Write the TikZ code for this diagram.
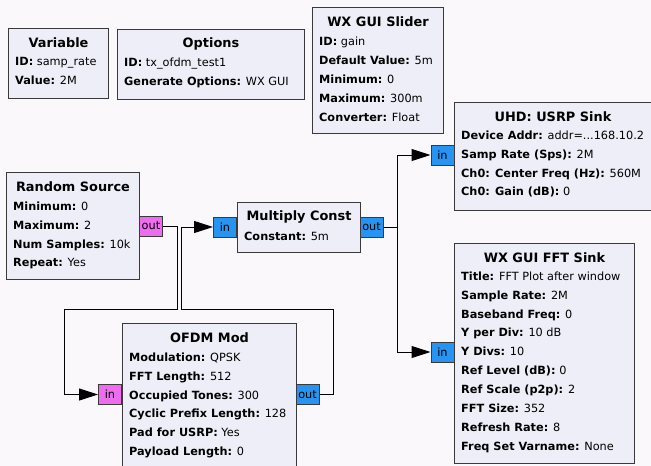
\documentclass[tikz,border=0pt]{standalone}
\usepackage{fontspec}
\setmainfont{DejaVu Sans}
\usetikzlibrary{arrows.meta}
\definecolor{canvas}{HTML}{FBF8FC}
\definecolor{blockfill}{HTML}{EEEEF8}
\definecolor{blockline}{HTML}{3A3A3A}
\definecolor{byteport}{HTML}{EE6CEE}
\definecolor{cplxport}{HTML}{2894F2}
\tikzset{
  x=1pt, y=-1pt,
  block/.style={draw=blockline, line width=1pt, fill=blockfill, anchor=north west, inner sep=0pt},
  btitle/.style={anchor=center, inner sep=0pt, font=\fontsize{12.9}{19}\selectfont\bfseries},
  bparams/.style={anchor=north west, inner sep=0pt, align=left, font=\fontsize{11.3}{18.9}\selectfont},
  port/.style={draw=blockline, line width=1pt, minimum width=23pt, minimum height=20pt, inner sep=0pt, font=\fontsize{11.3}{13}\selectfont},
  bport/.style={port, fill=byteport},
  cport/.style={port, fill=cplxport},
  wire/.style={draw=black, line width=1pt},
  flow/.style={wire, -{Triangle[length=19pt, width=12pt]}},
}
\newcommand{\prm}[2]{\textbf{#1:} #2}
\begin{document}
\begin{tikzpicture}
\useasboundingbox (0,0) rectangle (651,466);
\fill[canvas] (0,0) rectangle (651,466);

% Variable
\node[block, minimum width=100pt, minimum height=70pt] (var) at (8,28) {};
\node[btitle] at ([yshift=-15pt]var.north) {Variable};
\node[bparams] at ([xshift=7pt,yshift=-29pt]var.north west) {\prm{ID}{samp\_rate}\\\prm{Value}{2M}};

% Options
\node[block, minimum width=187pt, minimum height=70pt] (opt) at (117,29) {};
\node[btitle] at ([yshift=-15pt]opt.north) {Options};
\node[bparams] at ([xshift=7pt,yshift=-28.5pt]opt.north west) {\prm{ID}{tx\_ofdm\_test1}\\\prm{Generate Options}{WX GUI}};

% WX GUI Slider
\node[block, minimum width=131pt, minimum height=126pt] (sld) at (312,7) {};
\node[btitle] at ([yshift=-15pt]sld.north) {WX GUI Slider};
\node[bparams] at ([xshift=7pt,yshift=-30pt]sld.north west) {\prm{ID}{gain}\\\prm{Default Value}{5m}\\\prm{Minimum}{0}\\\prm{Maximum}{300m}\\\prm{Converter}{Float}};

% UHD: USRP Sink
\node[block, minimum width=200pt, minimum height=108pt] (uhd) at (454,102) {};
\node[btitle] at (553,117) {UHD: USRP Sink};
\node[bparams] at ([xshift=7pt,yshift=-28.5pt]uhd.north west) {\prm{Device Addr}{addr=...168.10.2}\\\prm{Samp Rate (Sps)}{2M}\\\prm{Ch0: Center Freq (Hz)}{560M}\\\prm{Ch0: Gain (dB)}{0}};
\node[cport] (uhdin) at (442.5,155) {in};

% Random Source
\node[block, minimum width=133pt, minimum height=107pt] (rs) at (6,172) {};
\node[btitle] at ([yshift=-15pt]rs.north) {Random Source};
\node[bparams] at ([xshift=7pt,yshift=-29.5pt]rs.north west) {\prm{Minimum}{0}\\\prm{Maximum}{2}\\\prm{Num Samples}{10k}\\\prm{Repeat}{Yes}};
\node[bport] (rsout) at (151,226) {out};

% Multiply Const
\node[block, minimum width=123pt, minimum height=50pt] (mc) at (237,202) {};
\node[btitle] at ([yshift=-15pt]mc.north) {Multiply Const};
\node[bparams] at ([xshift=7pt,yshift=-29.5pt]mc.north west) {\prm{Constant}{5m}};
\node[cport] (mcin) at (225,227) {in};
\node[cport] (mcout) at (371.5,227) {out};

% WX GUI FFT Sink
\node[block, minimum width=180pt, minimum height=220pt] (fft) at (454,243) {};
\node[btitle] at ([yshift=-15pt]fft.north) {WX GUI FFT Sink};
\node[bparams] at ([xshift=7pt,yshift=-28.5pt]fft.north west) {\prm{Title}{FFT Plot after window}\\\prm{Sample Rate}{2M}\\\prm{Baseband Freq}{0}\\\prm{Y per Div}{10 dB}\\\prm{Y Divs}{10}\\\prm{Ref Level (dB)}{0}\\\prm{Ref Scale (p2p)}{2}\\\prm{FFT Size}{352}\\\prm{Refresh Rate}{8}\\\prm{Freq Set Varname}{None}};
\node[cport] (fftin) at (442.5,352) {in};

% OFDM Mod
\node[block, minimum width=174pt, minimum height=150pt] (ofdm) at (122,323) {};
\node[btitle] at ([yshift=-15pt]ofdm.north) {OFDM Mod};
\node[bparams] at ([xshift=7pt,yshift=-29.5pt]ofdm.north west) {\prm{Modulation}{QPSK}\\\prm{FFT Length}{512}\\\prm{Occupied Tones}{300}\\\prm{Cyclic Prefix Length}{128}\\\prm{Pad for USRP}{Yes}\\\prm{Payload Length}{0}};
\node[bport] (ofdmin) at (110,394.5) {in};
\node[cport] (ofdmout) at (307.5,394.5) {out};

% bend points of the wires
\coordinate (a1) at (177,226);
\coordinate (a2) at (177,309);
\coordinate (a3) at (64,309);
\coordinate (a4) at (64,394.5);
\coordinate (b1) at (333,394.5);
\coordinate (b2) at (333,309);
\coordinate (b3) at (181,309);
\coordinate (b4) at (181,227);
\coordinate (c1) at (397,227);
\coordinate (c2) at (397,155);
\coordinate (c3) at (397,352);

% connections
\draw[flow] (rsout.east) -- (a1) -- (a2) -- (a3) -- (a4) -- (ofdmin.west);
\draw[flow] (ofdmout.east) -- (b1) -- (b2) -- (b3) -- (b4) -- (mcin.west);
\draw[flow] (mcout.east) -- (c1) -- (c2) -- (uhdin.west);
\draw[flow] (c1) -- (c3) -- (fftin.west);
\end{tikzpicture}
\end{document}
